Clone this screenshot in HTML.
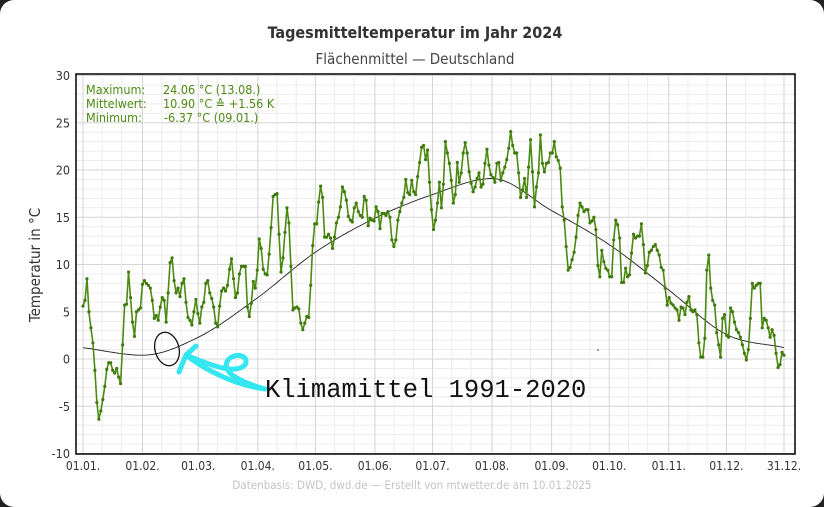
<!DOCTYPE html>
<html><head><meta charset="utf-8">
<style>
html,body{margin:0;padding:0;background:#222;}
#card{position:absolute;left:0;top:0;width:824px;height:507px;background:#fff;border-radius:14px;overflow:hidden;}
svg text{font-family:"DejaVu Sans Condensed","Liberation Sans",sans-serif;}
svg text.mono{font-family:"Liberation Mono",monospace;}
</style></head>
<body>
<div id="card">
<svg id="chart" width="824" height="507"></svg>
</div>
<script>
const monthLabels=["01.01.","01.02.","01.03.","01.04.","01.05.","01.06.","01.07.","01.08.","01.09.","01.10.","01.11.","01.12.","31.12."];
const monthStartDays=[0,31,60,91,121,152,182,213,244,274,305,335,365];
const yTicks=[-10,-5,0,5,10,15,20,25,30];
const climateValues=[1.2,0.4,2.3,6.5,11.3,14.9,17.4,19.1,15.7,12.1,7.3,2.6,1.2];
const temps=[5.6,6.2,8.5,5,3.3,1.7,-1.2,-4.6,-6.37,-5.5,-4.3,-2.9,-1.1,-0.4,-0.4,-1.2,-1.5,-1.0,-1.9,-2.6,1.5,5.7,5.8,9.2,6.5,3.9,2.4,5,5.2,5.4,7.9,
8.3,8.0,7.8,7.5,6.2,4.3,4.6,4.1,5.5,6.5,6.2,3.9,7,10.2,10.7,8.3,7,7.5,6.6,8,8.5,6,4.4,4.1,3.6,5,6.3,4.8,3.8,
5.5,6.0,8.0,8.3,7.0,6.4,5.5,3.8,3.4,5.6,7.2,7.5,7.2,7.8,9.5,10.6,8.5,6.5,7.0,9.0,9.8,9.8,9.8,5.5,4.5,5.9,8.2,7.5,9.4,12.7,11.7,
9.5,9.0,8.9,11.1,13.9,17.2,17.4,17.5,13.2,9.2,10.7,13.4,16.0,14.4,9.8,5.2,5.4,5.5,5.3,3.8,3.1,3.8,4.5,4.4,7.8,12.0,14.3,14.3,16.6,18.3,
17.1,12.9,12.9,13.2,12.8,11.7,12.9,14.4,15,16.1,18.2,17.7,16.8,15.1,14.7,14.5,16,16.5,15.6,15.2,15,17.2,16.8,14.1,14.9,14.7,14.6,16.1,15.6,13.8,15.4,15.4,15.2,15.6,15,12.6,11.9,12.6,14.7,15.6,16.5,17.1,19,17.6,17.4,18.9,17.7,17.4,19.3,20.8,22.4,22.6,21.1,22.1,18.7,15.8,13.7,14.7,16.5,18.7,
16,18.5,23,21.8,20.7,18.9,16.5,17.4,20.8,18.7,19.7,21.8,22.9,21.8,19.8,18.6,17.7,18.2,19.1,19.7,18.2,18.5,20.7,22.2,20.5,19.5,19.2,18.7,20.7,20.8,18.9,19.7,20.3,21.1,22.3,24.06,22.6,21.8,21.8,19.7,17.1,17.9,19.1,17.1,20.3,23.2,19.8,16.1,18.2,19.7,23.7,20.7,19.8,20.7,20.8,21.8,21.8,23,21.4,
21,20.2,16.1,14.7,11.9,9.4,9.7,10.5,11.3,12.9,15.2,16.5,16.1,15.6,15.8,15.8,14.4,14.6,15,13.7,9.9,8.7,11.5,10.3,9.6,9.4,8.7,8.7,12.6,14.7,14.2,12.8,8.1,8.1,9.6,8.7,8.9,11.2,13.2,12.8,13,13,14.3,12.1,9.1,9.9,11.3,11.5,11.9,12.1,11.5,11,9.7,9.4,7.5,
5.7,6.5,5.9,5.7,5.4,5.2,4.1,5.5,5.4,4.7,6,6.6,5.2,5,5.2,4.7,1.7,0.2,0.2,2.2,9.4,11,7.5,6.2,5.7,2.8,1.5,0.2,4.3,4.7,2.5,2.3,5.4,5,3.9,3.1,2.8,2.3,1.5,0.6,-0.1,1,4.3,8,7.5,7.8,8,8,3.3,4.3,4.1,3.3,2.3,3.1,2.5,0.6,-0.9,-0.6,0.7,0.4];

const NS="http://www.w3.org/2000/svg";
const svg=document.getElementById('chart');
const X0=83,X1=784,Y0=359,PXU=9.45;
const xDay=d=>X0+d*(X1-X0)/365;
const yVal=v=>Y0-v*PXU;
function mk(tag,attrs,parent){const e=document.createElementNS(NS,tag);for(const k in attrs)e.setAttribute(k,attrs[k]);(parent||svg).appendChild(e);return e;}

const grid=mk('g',{});


for(let v=-10;v<=30;v++){
  mk('line',{x1:76,x2:795,y1:yVal(v),y2:yVal(v),stroke:(v%5===0)?'#d4d4d4':'#ececec','stroke-width':1},grid);
}
for(let m=0;m<12;m++){
  const s=monthStartDays[m];
  for(const off of [10,20]){const d=s+off; if(d<monthStartDays[m+1]) mk('line',{x1:xDay(d),x2:xDay(d),y1:74,y2:454,stroke:'#ececec'},grid);}
}
monthStartDays.forEach(d=>mk('line',{x1:xDay(d),x2:xDay(d),y1:74,y2:454,stroke:'#d4d4d4'},grid));

const frame=mk('rect',{x:76,y:74,width:719,height:380,fill:'none',stroke:'#000','stroke-width':1.5});



yTicks.forEach(v=>{
  const t=mk('text',{x:70,y:yVal(v)+4.5,'text-anchor':'end','font-size':12.5,fill:'#333'});
  t.textContent=v;
  
  
});
monthLabels.forEach((l,i)=>{
  const t=mk('text',{x:xDay(monthStartDays[i]),y:470,'text-anchor':'middle','font-size':12,fill:'#333'});
  t.textContent=l;
  
  
});

(function(){
  const xs=monthStartDays,ys=climateValues,n=xs.length;
  const dlt=[],m=[];
  for(let i=0;i<n-1;i++)dlt.push((ys[i+1]-ys[i])/(xs[i+1]-xs[i]));
  m[0]=dlt[0];m[n-1]=dlt[n-2];
  for(let i=1;i<n-1;i++)m[i]=(dlt[i-1]*dlt[i]<=0)?0:(dlt[i-1]+dlt[i])/2;
  let p='';
  for(let i=0;i<n-1;i++){
    const h=xs[i+1]-xs[i];
    for(let k=0;k<=h;k++){
      const t=k/h,t2=t*t,t3=t2*t;
      const v=(2*t3-3*t2+1)*ys[i]+(t3-2*t2+t)*h*m[i]+(-2*t3+3*t2)*ys[i+1]+(t3-t2)*h*m[i+1];
      p+=(p?'L':'M')+xDay(xs[i]+k).toFixed(1)+','+yVal(v).toFixed(1);
    }
  }
  const c=mk('path',{d:p,fill:'none',stroke:'#222','stroke-width':0.9});
  
  
})();

(function(){
  const n=temps.length;
  const g=mk('g',{});
  
  
  let p='';
  temps.forEach((v,i)=>{p+=(i?'L':'M')+xDay(i*365/(n-1)).toFixed(1)+','+yVal(v).toFixed(1);});
  mk('path',{d:p,fill:'none',stroke:'#4c8a12','stroke-width':1.6,'stroke-linejoin':'round'},g);
  temps.forEach((v,i)=>{
    const c=mk('circle',{cx:xDay(i*365/(n-1)),cy:yVal(v),r:1.6,fill:'#3f7a0c'},g);
    
    
  });
})();
</script>
<svg width="824" height="507" style="position:absolute;left:0;top:0;">
  <text x="415" y="38" text-anchor="middle" font-size="16" font-weight="bold" fill="#333">Tagesmitteltemperatur im Jahr 2024</text>
  <text x="415" y="64" text-anchor="middle" font-size="15" fill="#444">Flächenmittel — Deutschland</text>
  <text transform="translate(40,265) rotate(-90)" text-anchor="middle" font-size="15" fill="#333">Temperatur in °C</text>
  <g font-size="12.5" fill="#4c8a12">
    <text x="86" y="94">Maximum:</text><text x="163" y="94">24.06 °C  (13.08.)</text>
    <text x="86" y="108">Mittelwert:</text><text x="163" y="108">10.90 °C  ≙ +1.56 K</text>
    <text x="86" y="122">Minimum:</text><text x="164" y="122">-6.37 °C  (09.01.)</text>
  </g>
  <text x="412" y="489" text-anchor="middle" font-size="11.5" fill="#c4c4c4">Datenbasis: DWD, dwd.de — Erstellt von mtwetter.de am 10.01.2025</text>
  <ellipse cx="167" cy="349" rx="12" ry="17" fill="none" stroke="#111" stroke-width="1.3" transform="rotate(-15 167 349)"/>
  <path d="M265,389 C235,385 205,370 186,355 M186,355 C210,365 235,375 245,365 C250,355 235,352 228,360 C220,372 240,382 265,389" fill="none" stroke="#33e6f0" stroke-width="5" stroke-linecap="round"/>
  <path d="M186,355 L196,346 M186,355 L179,372" stroke="#33e6f0" stroke-width="5" stroke-linecap="round" fill="none"/>
  <text class="mono" x="265" y="397" font-size="25.5" fill="#111">Klimamittel 1991-2020</text>
  <circle cx="598" cy="350" r="0.8" fill="#333"/>
</svg>
</body></html>
